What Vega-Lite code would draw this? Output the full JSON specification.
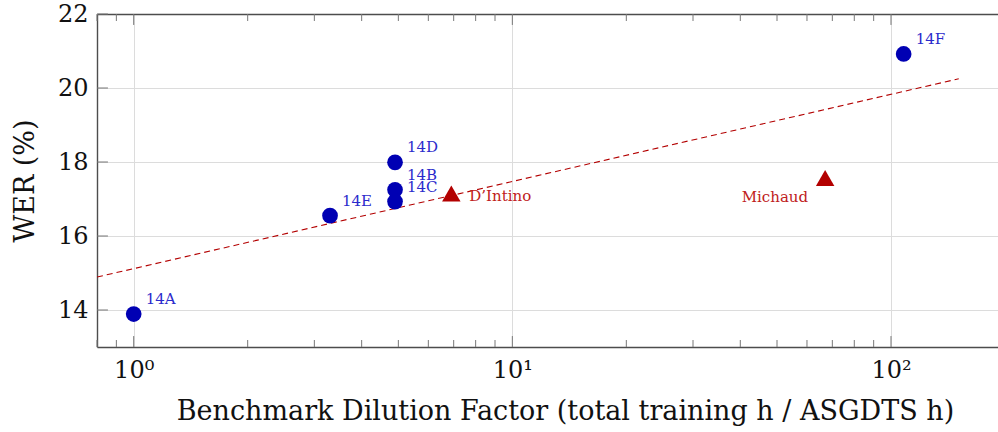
{
  "$schema": "https://vega.github.io/schema/vega-lite/v6.json",
  "width": 901,
  "height": 333,
  "autosize": "none",
  "padding": {"left": 97, "top": 14, "right": 0, "bottom": 85},
  "background": "white",
  "datasets": {
    "points": [
      {"name": "14A", "factor": 1.0, "wer": 13.89, "group": "ours"},
      {"name": "14E", "factor": 3.3, "wer": 16.55, "group": "ours"},
      {"name": "14B", "factor": 4.9, "wer": 17.25, "group": "ours"},
      {"name": "14C", "factor": 4.9, "wer": 16.93, "group": "ours"},
      {"name": "14D", "factor": 4.9, "wer": 17.99, "group": "ours"},
      {"name": "14F", "factor": 108, "wer": 20.92, "group": "ours"},
      {"name": "D’Intino", "factor": 6.9, "wer": 17.15, "group": "other"},
      {"name": "Michaud", "factor": 67, "wer": 17.57, "group": "other"}
    ],
    "fit": [
      {"factor": 0.8, "wer": 14.89},
      {"factor": 151, "wer": 20.25}
    ],
    "xticks": [
      {"v": 0.8, "kind": "minor"}, {"v": 0.9, "kind": "minor"}, {"v": 1, "kind": "major"},
      {"v": 2, "kind": "minor"}, {"v": 3, "kind": "minor"}, {"v": 4, "kind": "minor"},
      {"v": 5, "kind": "minor"}, {"v": 6, "kind": "minor"}, {"v": 7, "kind": "minor"},
      {"v": 8, "kind": "minor"}, {"v": 9, "kind": "minor"}, {"v": 10, "kind": "major"},
      {"v": 20, "kind": "minor"}, {"v": 30, "kind": "minor"}, {"v": 40, "kind": "minor"},
      {"v": 50, "kind": "minor"}, {"v": 60, "kind": "minor"}, {"v": 70, "kind": "minor"},
      {"v": 80, "kind": "minor"}, {"v": 90, "kind": "minor"}, {"v": 100, "kind": "major"}
    ],
    "yticks": [{"v": 14}, {"v": 16}, {"v": 18}, {"v": 20}, {"v": 22}]
  },
  "layer": [
    {
      "data": {"name": "fit"},
      "mark": {"type": "line", "color": "#b30000", "strokeWidth": 1.1, "strokeDash": [6, 4], "clip": true},
      "encoding": {
        "x": {
          "field": "factor", "type": "quantitative",
          "scale": {"type": "log", "domain": [0.8, 191.7], "nice": false},
          "axis": {
            "orient": "bottom",
            "title": "Benchmark Dilution Factor (total training h / ASGDTS h)",
            "titleX": 468,
            "values": [1, 10, 100],
            "labelExpr": "datum.value == 1 ? '10⁰' : datum.value == 10 ? '10¹' : '10²'",
            "labelOverlap": false,
            "ticks": false,
            "labelPadding": 11,
            "titlePadding": 16
          }
        },
        "y": {
          "field": "wer", "type": "quantitative",
          "scale": {"domain": [13, 22], "nice": false, "zero": false},
          "axis": {
            "orient": "left",
            "title": "WER (%)",
            "values": [14, 16, 18, 20, 22],
            "ticks": false,
            "labelPadding": 9,
            "titlePadding": 18
          }
        }
      }
    },
    {
      "data": {"name": "xticks"},
      "transform": [{"filter": "datum.kind == 'major'"}],
      "mark": {"type": "rule", "color": "#777777", "strokeWidth": 1},
      "encoding": {
        "x": {"field": "v", "type": "quantitative", "axis": null},
        "y": {"datum": 13, "axis": null},
        "y2": {"datum": 13.296}
      }
    },
    {
      "data": {"name": "xticks"},
      "transform": [{"filter": "datum.kind == 'minor'"}],
      "mark": {"type": "rule", "color": "#777777", "strokeWidth": 1},
      "encoding": {
        "x": {"field": "v", "type": "quantitative", "axis": null},
        "y": {"datum": 13, "axis": null},
        "y2": {"datum": 13.189}
      }
    },
    {
      "data": {"name": "xticks"},
      "transform": [{"filter": "datum.kind == 'major'"}],
      "mark": {"type": "rule", "color": "#777777", "strokeWidth": 1},
      "encoding": {
        "x": {"field": "v", "type": "quantitative", "axis": null},
        "y": {"datum": 22, "axis": null},
        "y2": {"datum": 21.704}
      }
    },
    {
      "data": {"name": "xticks"},
      "transform": [{"filter": "datum.kind == 'minor'"}],
      "mark": {"type": "rule", "color": "#777777", "strokeWidth": 1},
      "encoding": {
        "x": {"field": "v", "type": "quantitative", "axis": null},
        "y": {"datum": 22, "axis": null},
        "y2": {"datum": 21.811}
      }
    },
    {
      "data": {"name": "yticks"},
      "mark": {"type": "rule", "color": "#777777", "strokeWidth": 1},
      "encoding": {
        "y": {"field": "v", "type": "quantitative", "axis": null},
        "x": {"datum": 0.8, "axis": null},
        "x2": {"datum": 0.855}
      }
    },
    {
      "data": {"name": "points"},
      "transform": [{"filter": "datum.group == 'ours'"}],
      "mark": {"type": "point", "shape": "circle", "filled": true, "opacity": 1, "size": 246, "color": "#0000b3"},
      "encoding": {
        "x": {"field": "factor", "type": "quantitative", "axis": null},
        "y": {"field": "wer", "type": "quantitative", "axis": null}
      }
    },
    {
      "data": {"name": "points"},
      "transform": [{"filter": "datum.group == 'other'"}],
      "mark": {"type": "point", "shape": "triangle-up", "filled": true, "opacity": 1, "size": 340, "color": "#b30000"},
      "encoding": {
        "x": {"field": "factor", "type": "quantitative", "axis": null},
        "y": {"field": "wer", "type": "quantitative", "axis": null}
      }
    },
    {
      "data": {"name": "points"},
      "transform": [{"filter": "datum.group == 'ours'"}],
      "mark": {"type": "text", "align": "left", "baseline": "middle", "dx": 12, "dy": -15, "font": "DejaVu Serif", "fontSize": 15, "color": "#2b2bcc"},
      "encoding": {
        "x": {"field": "factor", "type": "quantitative", "axis": null},
        "y": {"field": "wer", "type": "quantitative", "axis": null},
        "text": {"field": "name"}
      }
    },
    {
      "data": {"name": "points"},
      "transform": [{"filter": "datum.name == 'D’Intino'"}],
      "mark": {"type": "text", "align": "left", "baseline": "middle", "dx": 18, "dy": 3, "font": "DejaVu Serif", "fontSize": 15, "color": "#c02020"},
      "encoding": {
        "x": {"field": "factor", "type": "quantitative", "axis": null},
        "y": {"field": "wer", "type": "quantitative", "axis": null},
        "text": {"field": "name"}
      }
    },
    {
      "data": {"name": "points"},
      "transform": [{"filter": "datum.name == 'Michaud'"}],
      "mark": {"type": "text", "align": "right", "baseline": "middle", "dx": -17, "dy": 19, "font": "DejaVu Serif", "fontSize": 15, "color": "#c02020"},
      "encoding": {
        "x": {"field": "factor", "type": "quantitative", "axis": null},
        "y": {"field": "wer", "type": "quantitative", "axis": null},
        "text": {"field": "name"}
      }
    },
    {
      "data": {"name": "fit"},
      "mark": {"type": "point", "opacity": 0},
      "encoding": {
        "x": {
          "field": "factor", "type": "quantitative",
          "axis": {"orient": "top", "ticks": false, "values": [1], "labels": false, "domain": true, "grid": false, "title": null}
        },
        "y": {"field": "wer", "type": "quantitative", "axis": null}
      }
    }
  ],
  "resolve": {"axis": {"x": "independent", "y": "independent"}},
  "config": {
    "view": {"stroke": null},
    "axis": {
      "domainColor": "#4d4d4d",
      "domainWidth": 1.4,
      "gridColor": "#dcdcdc",
      "gridWidth": 1,
      "labelFont": "DejaVu Serif",
      "labelFontSize": 24,
      "labelColor": "#111111",
      "titleFont": "DejaVu Serif",
      "titleFontSize": 27,
      "titleFontWeight": "normal",
      "titleColor": "#111111"
    }
  }
}
